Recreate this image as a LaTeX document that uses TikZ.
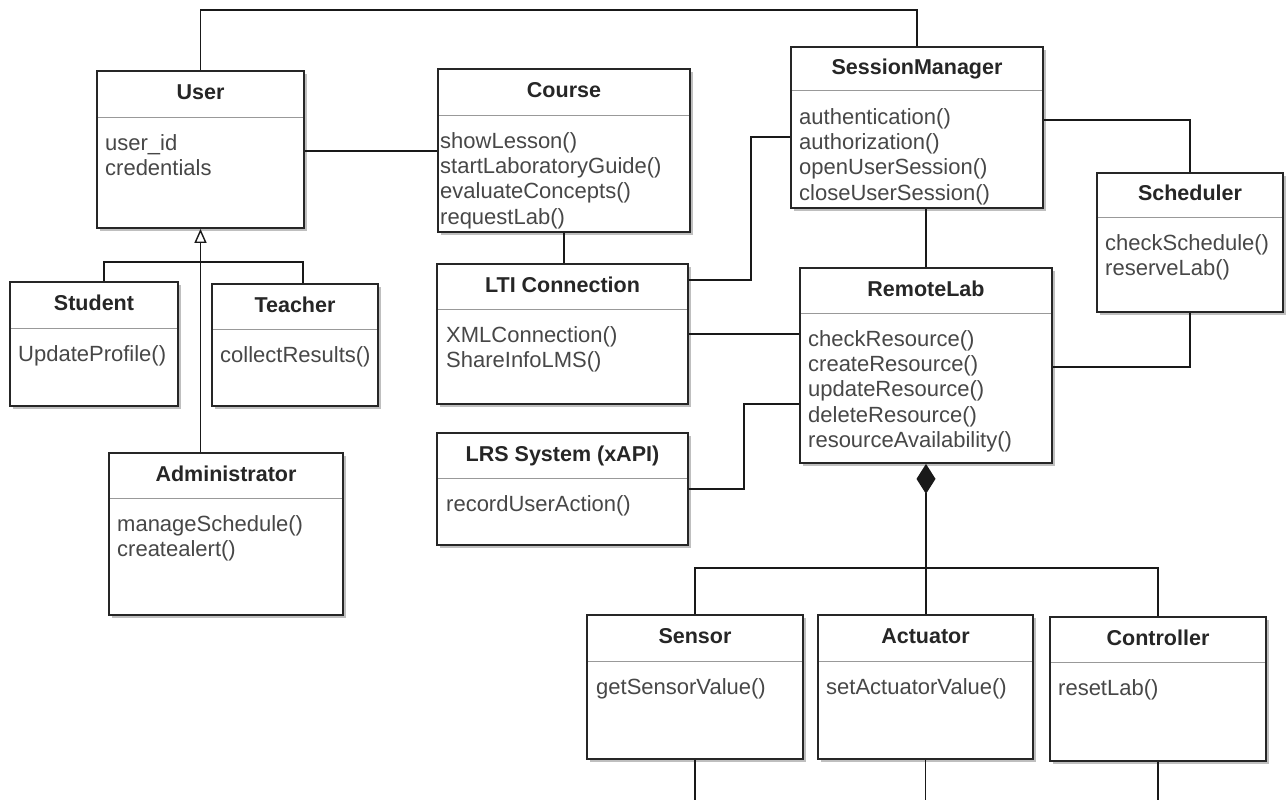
\documentclass[tikz,border=0pt]{standalone}
\usepackage{fontspec}
\setmainfont{Liberation Sans}
\usetikzlibrary{arrows.meta,shadows,calc}
\tikzset{
 clsbox/.style={draw=black!85, line width=1.8pt, fill=white, inner sep=0pt,
   drop shadow={shadow xshift=3pt, shadow yshift=-3pt, fill=black!25, opacity=1}},
 sepline/.style={draw=black!40, line width=1pt},
 titletext/.style={font=\bfseries\fontsize{21.5}{25}\selectfont, text=black!85, inner sep=0pt},
 bodytext/.style={font=\fontsize{22}{25}\selectfont, text=black!72, inner sep=0pt},
 conn/.style={draw=black!90, line width=1.4pt},
}
% name, x1, y1, x2, y2, separator y, title, body lines, text x offset
\newcommand{\umlclass}[9]{%
  \node[clsbox, minimum width={(#4-#2)*1pt}, minimum height={(#5-#3)*1pt}] (#1) at ({(#2+#4)/2},{(#3+#5)/2}) {};
  \draw[sepline] ({#2+1},#6) -- ({#4-1},#6);
  \node[titletext, anchor=base] (#1-title) at ({(#2+#4)/2},{(#3+#6)/2+5.5}) {#7};
  \foreach \mline [count=\mi] in {#8} {\node[bodytext, anchor=base west] (#1-m\mi) at ({#2+#9},{#6+33.5+25.2*(\mi-1)}) {\mline};}
}
\begin{document}
\begin{tikzpicture}[x=1pt,y=-1pt]
\useasboundingbox (0,0) rectangle (1286,800);
\fill[white] (0,0) rectangle (1286,800);

\umlclass{user}{97}{71}{304}{228}{117}{User}{user\_id, credentials}{8}
\umlclass{student}{10}{282}{178}{406}{328}{Student}{UpdateProfile()}{8}
\umlclass{teacher}{212}{284}{378}{406}{329}{Teacher}{collectResults()}{8}
\umlclass{admin}{109}{453}{343}{615}{498}{Administrator}{manageSchedule(), createalert()}{8}
\umlclass{course}{438}{69}{690}{232}{115}{Course}{showLesson(), startLaboratoryGuide(), evaluateConcepts(), requestLab()}{2}
\umlclass{lti}{437}{264}{688}{404}{309}{LTI Connection}{XMLConnection(), ShareInfoLMS()}{9}
\umlclass{lrs}{437}{433}{688}{545}{478}{LRS System (xAPI)}{recordUserAction()}{9}
\umlclass{sm}{791}{47}{1043}{208}{91}{SessionManager}{authentication(), authorization(), openUserSession(), closeUserSession()}{8}
\umlclass{sched}{1097}{173}{1283}{312}{217}{Scheduler}{checkSchedule(), reserveLab()}{8}
\umlclass{rl}{800}{268}{1052}{463}{313}{RemoteLab}{checkResource(), createResource(), updateResource(), deleteResource(), resourceAvailability()}{8}
\umlclass{sen}{587}{615}{803}{759}{661}{Sensor}{getSensorValue()}{9}
\umlclass{act}{818}{615}{1033}{759}{661}{Actuator}{setActuatorValue()}{8}
\umlclass{ctl}{1050}{617}{1266}{761}{662}{Controller}{resetLab()}{8}

\coordinate (yTop) at (0,10);
\coordinate (yUC) at (0,151);
\coordinate (yGen) at (0,262);
\coordinate (yLS) at (0,280);
\coordinate (xLS) at (751,0);
\coordinate (ySM) at (0,137);
\coordinate (yLR) at (0,334);
\coordinate (yLRS) at (0,489);
\coordinate (xLRS) at (744,0);
\coordinate (yRL2) at (0,404);
\coordinate (ySS) at (0,120);
\coordinate (yRS) at (0,367);
\coordinate (yComp) at (0,568);
\coordinate (yBot) at (0,806);

\draw[conn] (user.north) |- (sm.north |- yTop) -- (sm.north);
\draw[conn] (user.east |- yUC) -- (course.west |- yUC);
\draw[conn] (course.south) -- (course.south |- lti.north);
\draw[conn] (lti.east |- yLS) -| (xLS |- ySM) -- (sm.west |- ySM);
\draw[conn] (lti.east |- yLR) -- (rl.west |- yLR);
\draw[conn] (lrs.east |- yLRS) -| (xLRS |- yRL2) -- (rl.west |- yRL2);
\draw[conn] (sm.east |- ySS) -| (sched.north);
\draw[conn] (sm.south -| rl.north) -- (rl.north);
\draw[conn] (rl.east |- yRS) -| (sched.south);

\draw[conn,-{Triangle[open,length=14pt,width=12pt,fill=white]}] (user.south |- admin.north) -- (user.south);
\coordinate (sT) at ([xshift=10pt]student.north);
\coordinate (tT) at ([xshift=8pt]teacher.north);
\draw[conn] (sT) |- (tT |- yGen) -- (tT);

\draw[conn,{Diamond[length=30pt,width=19pt]}-] (rl.south) -- (rl.south |- act.north);
\draw[conn] (sen.north) |- (ctl.north |- yComp) -- (ctl.north);
\draw[conn] (sen.south) -- (sen.south |- yBot);
\draw[conn] (act.south) -- (act.south |- yBot);
\draw[conn] (ctl.south) -- (ctl.south |- yBot);
\end{tikzpicture}
\end{document}
